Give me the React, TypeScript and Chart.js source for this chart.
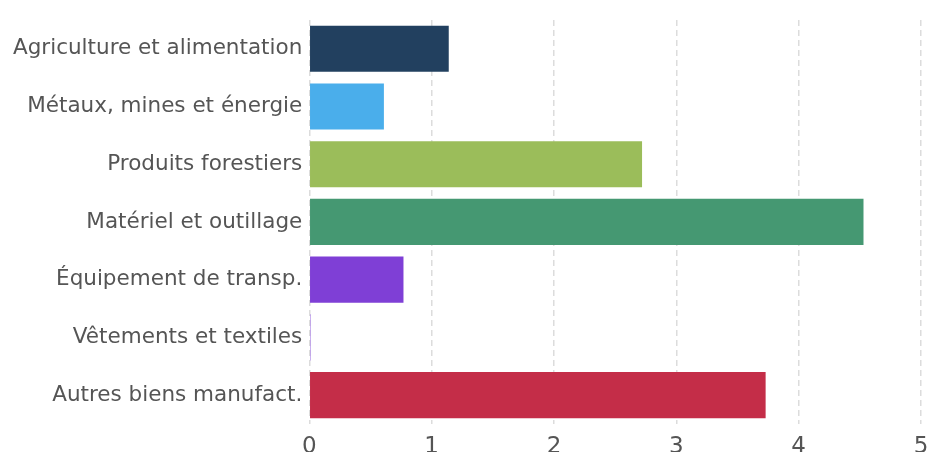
import React, { useEffect, useRef } from "react";
import { Chart, registerables } from "chart.js";

Chart.register(...registerables);

const categories = [
  "Agriculture et alimentation",
  "Métaux, mines et énergie",
  "Produits forestiers",
  "Matériel et outillage",
  "Équipement de transp.",
  "Vêtements et textiles",
  "Autres biens manufact.",
];
const values = [1.14, 0.61, 2.72, 4.53, 0.77, 0.01, 3.73];
const colors = ["#22405f", "#4aaeeb", "#9bbd5a", "#459872", "#7f3fd6", "#8f5ae0", "#c42d48"];

export default function App() {
  const ref = useRef<HTMLCanvasElement | null>(null);
  useEffect(() => {
    if (!ref.current) return;
    const chart = new Chart(ref.current, {
      type: "bar",
      data: {
        labels: categories,
        datasets: [
          {
            data: values,
            backgroundColor: colors,
            borderWidth: 0,
            barPercentage: 1,
            categoryPercentage: 0.8,
          },
        ],
      },
      options: {
        indexAxis: "y",
        animation: false,
        responsive: false,
        maintainAspectRatio: false,
        layout: { padding: { top: 19, right: 0, left: 6, bottom: 0 } },
        plugins: { legend: { display: false }, tooltip: { enabled: false } },
        scales: {
          x: {
            min: 0,
            max: 5,
            afterFit: (scale: any) => {
              scale.height = 28;
              scale.paddingRight = 7;
            },
            ticks: {
              stepSize: 1,
              color: "#555555",
              font: { family: "DejaVu Sans", size: 23 },
              padding: 9,
            },
            grid: {
              color: "#dcdcdc",
              lineWidth: 1.5,
              drawTicks: false,
            },
            border: { display: false, dash: [6, 4] },
          },
          y: {
            ticks: {
              color: "#555555",
              font: { family: "DejaVu Sans", size: 21.5 },
              padding: 7,
            },
            grid: { display: false, drawTicks: false },
            border: { display: false },
          },
        },
      },
    });
    return () => chart.destroy();
  }, []);
  return (
    <div style={{ position: "fixed", left: 0, top: 0, width: 928, height: 452 }}>
      <canvas ref={ref} width={928} height={452} />
    </div>
  );
}
